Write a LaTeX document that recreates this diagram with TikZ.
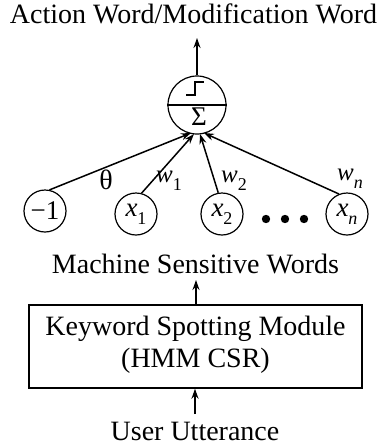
\documentclass[tikz,border=0pt]{standalone}
\usepackage{fontspec}
\setmainfont{Liberation Serif}
\usetikzlibrary{arrows.meta}
\newcommand{\subidx}[1]{\raisebox{-0.3em}{\fontsize{18}{18}\selectfont #1}}
\begin{document}
\begin{tikzpicture}[x=1pt,y=-1pt,
  txt/.style={font=\fontsize{28}{30}\selectfont, inner sep=0pt},
  inp/.style={circle, draw, line width=1.2pt, minimum size=42pt, inner sep=0pt, font=\fontsize{27}{28}\selectfont},
  wlab/.style={font=\fontsize{25}{26}\selectfont, inner sep=0pt},
  conn/.style={line width=1.5pt, -{Stealth[length=10pt,width=7pt]}},
  line width=1.2pt]
  \useasboundingbox (0,0) rectangle (387,445);

  % output label and neuron
  \node[txt] (out) at (193.5,14) {Action Word/Modification Word};
  \node[circle, draw, minimum size=58pt, inner sep=0pt] (sum) at (197,105) {};
  \draw (sum.west) -- (sum.east);
  \node[font=\fontsize{27}{27}\selectfont, inner sep=0pt] (sigma) at (199,117) {Σ};
  \draw (186,95) -- (195,95) -- (195,82) -- (204,82);
  \coordinate (outtip) at (197,38);
  \draw[conn] (sum.north) -- (outtip);

  % inputs
  \node[inp] (bias) at (45,211) {−1};
  \node[inp] (x1) at (136,214) {{\itshape x}\subidx{1}};
  \node[inp] (x2) at (222,214) {{\itshape x}\subidx{2}};
  \node[inp] (xn) at (347,214) {{\itshape x}\subidx{\itshape n}};
  \foreach \px in {266,285,304} \fill (\px,219) circle (4.2pt);

  % weighted connections
  \coordinate (h0) at (191,133);
  \coordinate (h1) at (194,134);
  \coordinate (h2) at (200,134);
  \coordinate (h3) at (204,133);
  \draw[conn] (bias.78) -- (h0);
  \draw[conn] (x1.75) -- (h1);
  \draw[conn] (x2.100) -- (h2);
  \draw[conn] (xn.112) -- (h3);
  \node[wlab, font=\fontsize{28}{28}\selectfont] (th) at (106,180) {θ};
  \node[wlab] (w1) at (169,181) {{\itshape w}\subidx{1}};
  \node[wlab] (w2) at (234,181) {{\itshape w}\subidx{2}};
  \node[wlab] (wn) at (350,179) {{\itshape w}\subidx{\itshape n}};

  % keyword spotting stage
  \node[txt] (msw) at (195.5,264) {Machine Sensitive Words};
  \node[draw, line width=1.5pt, minimum width=333pt, minimum height=83pt, inner sep=0pt] (kws) at (195.5,346.5) {};
  \node[txt] (kw1) at (195.5,329) {Keyword Spotting Module};
  \node[txt] (kw2) at (195.5,361) {(HMM CSR)};
  \draw[conn] (kws.north -| 196,0) -- (196,280);
  \node[txt] (usr) at (195,431) {User Utterance};
  \coordinate (utail) at (195,414);
  \draw[conn] (utail) -- (kws.south -| 195,0);
\end{tikzpicture}
\end{document}
